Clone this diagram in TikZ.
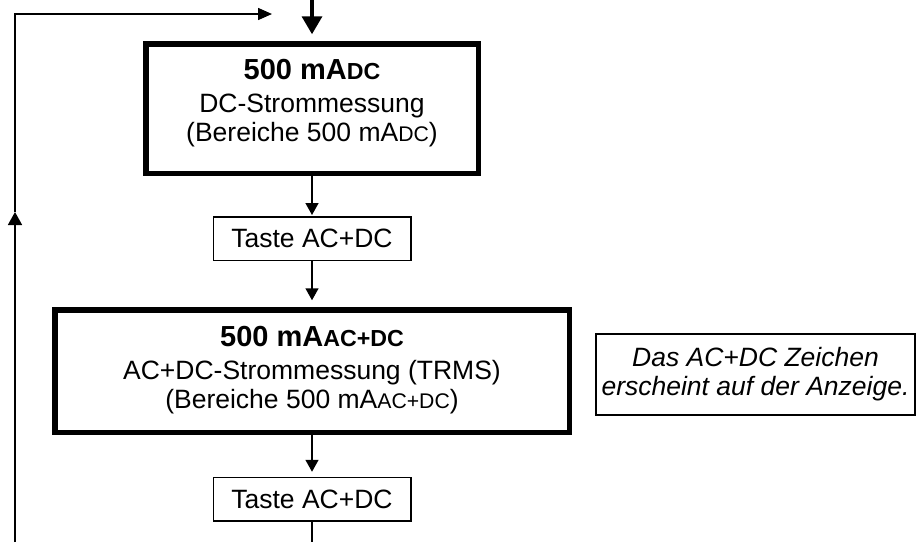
\documentclass[tikz,border=0pt]{standalone}
\usepackage{fontspec}
\setmainfont{Liberation Sans}
\usetikzlibrary{arrows.meta}

% lowered small capitals used for the unit suffixes
\newcommand\unitsub[1]{{\fontsize{21.2}{21.2}\selectfont #1}}
\newcommand\unitsubbold[1]{{\fontsize{23.2}{23.2}\selectfont\bfseries #1}}
\newcommand\headline[1]{{\fontsize{29}{29}\selectfont\bfseries #1}}

\tikzset{
  bigbox/.style={draw, line width=5.5pt, inner sep=0pt},
  keybox/.style={draw, line width=1.5pt, inner sep=0pt,
    minimum width=197.5pt, minimum height=43.5pt,
    font=\fontsize{26.5}{29}\selectfont},
  notebox/.style={draw, line width=1.6pt, inner sep=0pt, align=center,
    font=\fontsize{26.5}{29}\selectfont\itshape},
  boxtext/.style={align=center, inner sep=0pt,
    font=\fontsize{26.5}{29}\selectfont},
  flow/.style={line width=1.5pt, -{Triangle[length=12pt,width=13pt]}},
  entry/.style={line width=3.5pt, -{Triangle[length=18pt,width=20pt]}},
  loopline/.style={line width=1.5pt},
}

\begin{document}
\begin{tikzpicture}[x=1pt,y=-1pt]
\useasboundingbox (0,0) rectangle (917,542);
\fill[white] (0,0) rectangle (917,542);

% free ends of the connectors
\coordinate (topin) at (312,0);
\coordinate (outbot) at (312,542);
\coordinate (loopbot) at (15,542);
\coordinate (loopmid) at (15,212);
\coordinate (loopcorner) at (15,14);
\coordinate (looptip) at (272,14);

% DC measurement state
\node[bigbox, minimum width=332.5pt, minimum height=129.5pt] (dcbox) at (312,108.5) {};
\node[boxtext, anchor=north] (dctext) at (312,59.2)
  {\headline{500 mA\unitsubbold{DC}}\\[4pt]
   DC-Strommessung\\
   (Bereiche 500 mA\unitsub{DC})};

% first key press
\node[keybox] (tasteA) at (312,238.5) {Taste AC+DC};

% AC+DC measurement state
\node[bigbox, minimum width=514.5pt, minimum height=122.5pt] (acbox) at (312,371) {};
\node[boxtext, anchor=north] (actext) at (312,326.2)
  {\headline{500 mA\unitsubbold{AC+DC}}\\[4pt]
   AC+DC-Strommessung (TRMS)\\
   (Bereiche 500 mA\unitsub{AC+DC})};

% display note
\node[notebox, minimum width=319.4pt, minimum height=81.4pt] (note) at (755.5,374.5)
  {Das AC+DC Zeichen\\ erscheint auf der Anzeige.};

% second key press
\node[keybox] (tasteB) at (312,499) {Taste AC+DC};

% connectors
\draw[entry, shorten >=6.75pt] (topin) -- (dcbox.north);
\draw[flow, shorten >=1pt] (dcbox.south) -- (tasteA.north);
\draw[flow, shorten >=6.75pt] (tasteA.south) -- (acbox.north);
\draw[flow, shorten >=4.75pt] (acbox.south) -- (tasteB.north);
\draw[line width=1.5pt] (tasteB.south) -- (outbot);

% return loop on the left
\draw[loopline, line width=1.7pt, -{Triangle[length=13pt,width=14pt]}] (loopbot) -- (loopmid);
\draw[loopline, -{Triangle[length=14pt,width=12pt]}] (loopmid) -- (loopcorner) -- (looptip);
\end{tikzpicture}
\end{document}
